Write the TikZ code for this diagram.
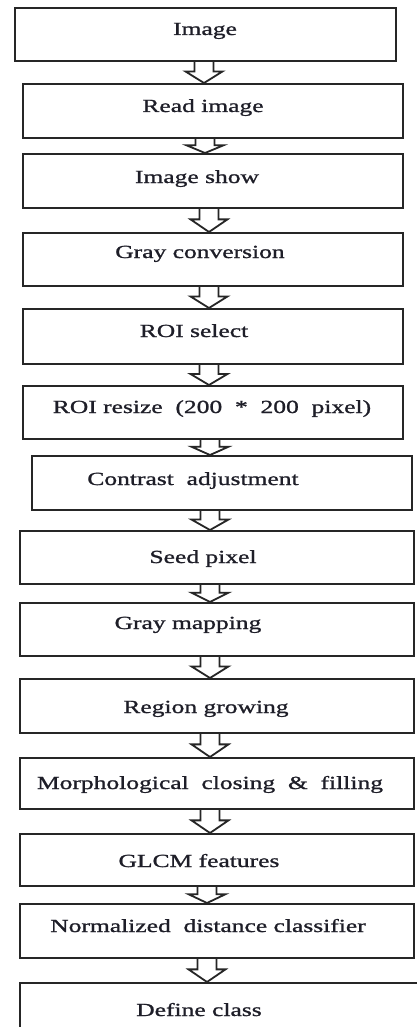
\documentclass[tikz,border=0pt]{standalone}
\usepackage{fontspec}
\setmainfont{Liberation Serif}
\newfontfamily\boxfont[FakeStretch=1.38,FakeBold=1.1]{Liberation Serif}
\usetikzlibrary{calc,backgrounds}
\definecolor{boxline}{HTML}{262626}
\definecolor{boxtext}{HTML}{1E1E28}
\tikzset{
  stagebox/.style={draw=boxline, line width=2pt, fill=white, inner sep=0pt, anchor=north west},
  steptext/.style={anchor=base, inner sep=0pt, text=boxtext, font=\boxfont\fontsize{18.5}{20}\selectfont},
  flowarrow/.style={draw=boxline, line width=1.8pt, fill=white, line join=miter}
}
\newcommand\blockarrow[3]{%
  \coordinate (ax) at (#3,0);
  \draw[flowarrow] let \p1=(#1.south -| ax), \p2=(#2.north -| ax), \n1={0.55*(\y1-\y2)} in
    (\x1-9.5pt,\y1) -- (\x1-9.5pt,\y2+\n1) -- (\x1-18.5pt,\y2+\n1) -- (\x1,\y2)
    -- (\x1+18.5pt,\y2+\n1) -- (\x1+9.5pt,\y2+\n1) -- (\x1+9.5pt,\y1);
}
\begin{document}
\begin{tikzpicture}[x=1pt,y=-1pt]
\useasboundingbox (0,0) rectangle (417,1027);
\begin{scope}[on background layer]
  \fill[white] (0,0) rectangle (417,1027);
\end{scope}
\clip (0,0) rectangle (417,1027);
\node[stagebox, minimum width=381pt, minimum height=53pt] (b1) at (14,7) {};
\node[stagebox, minimum width=380pt, minimum height=54pt] (b2) at (22,83) {};
\node[stagebox, minimum width=380pt, minimum height=54pt] (b3) at (22,153) {};
\node[stagebox, minimum width=380pt, minimum height=53pt] (b4) at (22,232) {};
\node[stagebox, minimum width=380pt, minimum height=55pt] (b5) at (22,308) {};
\node[stagebox, minimum width=380pt, minimum height=53pt] (b6) at (22,385) {};
\node[stagebox, minimum width=380pt, minimum height=54pt] (b7) at (31,455) {};
\node[stagebox, minimum width=394pt, minimum height=53pt] (b8) at (19,530) {};
\node[stagebox, minimum width=394pt, minimum height=53pt] (b9) at (19,602) {};
\node[stagebox, minimum width=394pt, minimum height=54pt] (b10) at (19,678) {};
\node[stagebox, minimum width=394pt, minimum height=51pt] (b11) at (19,757) {};
\node[stagebox, minimum width=394pt, minimum height=52pt] (b12) at (19,833) {};
\node[stagebox, minimum width=394pt, minimum height=54pt] (b13) at (19,903) {};
\node[stagebox, minimum width=420pt, minimum height=70pt] (b14) at (19,982) {};

\node[steptext] (t1) at (205,35) {Image};
\node[steptext] (t2) at (203,112) {Read image};
\node[steptext] (t3) at (197,183) {Image show};
\node[steptext] (t4) at (200,258) {Gray conversion};
\node[steptext] (t5) at (194,337) {ROI select};
\node[steptext] (t6) at (212,413) {ROI resize \ (200 \ * \ 200 \ pixel)};
\node[steptext] (t7) at (193,485) {Contrast \ adjustment};
\node[steptext] (t8) at (203,563) {Seed pixel};
\node[steptext] (t9) at (188,629) {Gray mapping};
\node[steptext] (t10) at (206,713) {Region growing};
\node[steptext] (t11) at (210,789) {Morphological \ closing \ \& \ filling};
\node[steptext] (t12) at (199,867) {GLCM features};
\node[steptext] (t13) at (208,932) {Normalized \ distance classifier};
\node[steptext] (t14) at (199,1016) {Define class};

\begin{scope}[on background layer]
  \blockarrow{b1}{b2}{204}
  \blockarrow{b2}{b3}{205}
  \blockarrow{b3}{b4}{209}
  \blockarrow{b4}{b5}{209}
  \blockarrow{b5}{b6}{209}
  \blockarrow{b6}{b7}{210}
  \blockarrow{b7}{b8}{210}
  \blockarrow{b8}{b9}{210}
  \blockarrow{b9}{b10}{210}
  \blockarrow{b10}{b11}{210}
  \blockarrow{b11}{b12}{210}
  \blockarrow{b12}{b13}{207}
  \blockarrow{b13}{b14}{207}
\end{scope}
\end{tikzpicture}
\end{document}
